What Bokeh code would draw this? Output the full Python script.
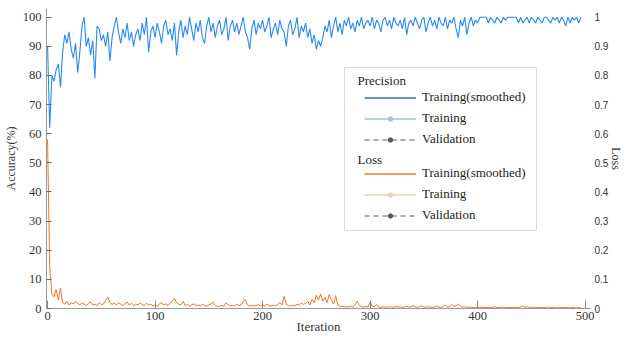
from bokeh.plotting import figure
from bokeh.models import (Range1d, LinearAxis, FixedTicker, NumeralTickFormatter,
                          Legend, LegendItem, BoxAnnotation, Label, Title)
from bokeh.embed import file_html
from bokeh.resources import INLINE

# ---------------- data ----------------
iterations = list(range(0, 497, 2))

accuracy = [
    90, 62, 80, 78, 82, 84, 76, 88, 94, 91,
    95, 89, 86, 91, 81, 88, 97, 100, 90, 93,
    87, 92, 79, 97, 96, 92, 94, 90, 95, 85,
    93, 97, 100, 95, 91, 96, 93, 98, 92, 95,
    90, 94, 96, 92, 98, 94, 100, 88, 95, 97,
    93, 98, 95, 91, 97, 99, 94, 96, 92, 98,
    87, 95, 99, 93, 97, 94, 100, 96, 92, 98,
    95, 99, 93, 91, 97, 100, 95, 98, 93, 97,
    99, 94, 96, 100, 92, 97, 99, 95, 98, 94,
    97, 100, 95, 93, 89, 96, 99, 94, 98, 96,
    99, 95, 97, 100, 93, 96, 98, 94, 99, 96,
    95, 90, 97, 99, 94, 96, 100, 93, 97, 95,
    98, 93, 96, 91, 94, 89, 92, 90, 93, 97,
    95, 99, 93, 97, 100, 95, 98, 94, 99, 97,
    100, 96, 98, 95, 99, 97, 100, 96, 98, 99,
    97, 100, 96, 99, 98, 95, 99, 100, 97, 99,
    96, 100, 98, 97, 99, 96, 100, 94, 98, 99,
    97, 100, 98, 96, 99, 100, 95, 98, 100, 97,
    99, 96, 100, 98, 97, 100, 96, 99, 98, 100,
    96, 93, 99, 97, 100, 94, 98, 100, 97, 99,
    98, 100, 100, 100, 100, 98, 100, 99, 98, 100,
    99, 98, 100, 99, 100, 100, 100, 100, 100, 98,
    100, 98, 99, 100, 98, 100, 99, 98, 100, 99,
    98, 100, 100, 99, 98, 100, 99, 100, 98, 100,
    99, 97, 100, 98, 100, 99, 100, 98, 100,
]

loss = [
    0.58, 0.14, 0.05, 0.04, 0.065, 0.03, 0.07, 0.02, 0.015, 0.025,
    0.012, 0.02, 0.015, 0.025, 0.018, 0.012, 0.02, 0.015, 0.01, 0.018,
    0.022, 0.012, 0.015, 0.01, 0.02, 0.013, 0.016, 0.028, 0.04, 0.02,
    0.014, 0.018, 0.012, 0.02, 0.015, 0.01, 0.016, 0.022, 0.012, 0.018,
    0.01, 0.015, 0.012, 0.02, 0.014, 0.01, 0.018, 0.012, 0.015, 0.009,
    0.012, 0.008, 0.015, 0.02, 0.012, 0.016, 0.01, 0.018, 0.025, 0.035,
    0.02, 0.015, 0.012, 0.025, 0.01, 0.014, 0.008, 0.012, 0.016, 0.01,
    0.012, 0.009, 0.014, 0.01, 0.008, 0.012, 0.016, 0.022, 0.01, 0.008,
    0.007, 0.01, 0.008, 0.02, 0.012, 0.009, 0.011, 0.008, 0.015, 0.01,
    0.012, 0.025, 0.03, 0.012, 0.009, 0.011, 0.008, 0.01, 0.014, 0.009,
    0.012, 0.008, 0.015, 0.01, 0.008, 0.012, 0.009, 0.014, 0.02, 0.012,
    0.042, 0.015, 0.01, 0.008, 0.012, 0.009, 0.015, 0.011, 0.02, 0.014,
    0.018, 0.025, 0.012, 0.032, 0.02, 0.045, 0.03, 0.05, 0.025, 0.038,
    0.02, 0.048, 0.03, 0.015, 0.044, 0.012, 0.008, 0.007, 0.006, 0.005,
    0.006, 0.008, 0.005, 0.012, 0.025, 0.01, 0.006, 0.005, 0.007, 0.005,
    0.022, 0.008, 0.006, 0.014, 0.005, 0.004, 0.006, 0.005, 0.004, 0.006,
    0.005, 0.004, 0.007, 0.005, 0.006, 0.004, 0.005, 0.008, 0.005, 0.006,
    0.01, 0.005, 0.004, 0.006, 0.009, 0.005, 0.004, 0.006, 0.005, 0.004,
    0.005, 0.008, 0.005, 0.004, 0.006, 0.012, 0.005, 0.007, 0.014, 0.006,
    0.01, 0.015, 0.008, 0.005, 0.006, 0.004, 0.005, 0.004, 0.003, 0.004,
    0.004, 0.003, 0.005, 0.003, 0.004, 0.003, 0.004, 0.003, 0.006, 0.003,
    0.004, 0.003, 0.005, 0.003, 0.004, 0.003, 0.004, 0.003, 0.004, 0.003,
    0.005, 0.008, 0.004, 0.006, 0.003, 0.005, 0.003, 0.004, 0.003, 0.004,
    0.003, 0.004, 0.003, 0.005, 0.003, 0.004, 0.003, 0.002, 0.004, 0.003,
    0.003, 0.004, 0.003, 0.002, 0.004, 0.003, 0.002, 0.003, 0.004,
]

acc_ticks = [0, 10, 20, 30, 40, 50, 60, 70, 80, 90, 100]
loss_ticks = [0, 0.1, 0.2, 0.3, 0.4, 0.5, 0.6, 0.7, 0.8, 0.9, 1.0]
iter_ticks = [0, 100, 200, 300, 400, 500]

legend_precision = ["Training(smoothed)", "Training", "Validation"]
legend_loss = ["Training(smoothed)", "Training", "Validation"]

SERIF = "Liberation Serif"
SANS = "Liberation Sans"
NAN = float("nan")

# ---------------- figure ----------------
p = figure(width=621, height=336, output_backend="svg", toolbar_location=None,
           x_range=Range1d(-1, 505), y_range=Range1d(0, 103),
           min_border_left=38, min_border_right=0, min_border_top=8,
           min_border_bottom=0)
p.extra_y_ranges = {"loss": Range1d(0, 1.03)}
p.outline_line_color = None
p.xgrid.visible = False
p.ygrid.visible = False

# left axis
ya = p.yaxis[0]
ya.ticker = FixedTicker(ticks=acc_ticks)
ya.axis_label = "Accuracy(%)"
ya.axis_label_text_font = SERIF
ya.axis_label_text_font_size = "12px"
ya.axis_label_text_font_style = "normal"
ya.axis_label_text_color = "#333333"
ya.axis_label_standoff = 2
ya.major_label_text_font = SERIF
ya.major_label_text_font_size = "12.5px"
ya.major_label_text_color = "#333333"
ya.major_label_standoff = 5
ya.axis_line_color = "#9a9a9a"
ya.major_tick_line_color = "#666666"
ya.major_tick_in = 5
ya.major_tick_out = 0
ya.minor_tick_line_color = None

# bottom axis
xa = p.xaxis[0]
xa.ticker = FixedTicker(ticks=iter_ticks)
xa.axis_label = "Iteration"
xa.axis_label_text_font = SERIF
xa.axis_label_text_font_size = "13px"
xa.axis_label_text_font_style = "normal"
xa.axis_label_text_color = "#333333"
xa.axis_label_standoff = -4
xa.major_label_text_font = SERIF
xa.major_label_text_font_size = "12.5px"
xa.major_label_text_color = "#333333"
xa.major_label_standoff = 3
xa.axis_line_color = "#9a9a9a"
xa.major_tick_line_color = "#888888"
xa.major_tick_in = 8
xa.major_tick_out = 0
xa.minor_tick_line_color = None

# right axis
ra = LinearAxis(y_range_name="loss", ticker=FixedTicker(ticks=loss_ticks),
                formatter=NumeralTickFormatter(format="0.[0]"))
ra.major_label_text_font = SANS
ra.major_label_text_font_size = "10px"
ra.major_label_text_color = "#333333"
ra.major_label_standoff = 4
ra.axis_line_color = None
ra.major_tick_line_color = None
ra.major_tick_in = 0
ra.major_tick_out = 0
ra.minor_tick_line_color = None
p.add_layout(ra, "right")
p.add_layout(Title(text="Loss", align="center", text_font=SERIF, text_font_size="12px",
                   text_font_style="normal", text_color="#333333",
                   standoff=-6, offset=0), "right")

# data lines
p.line(iterations, accuracy, line_color="#2a8af0", line_width=1.1)
p.line(iterations, loss, y_range_name="loss", line_color="#f07424", line_width=1.0)

# legend-only renderers (no visible data)
def leg_line(color, dash="solid", width=1.5):
    return p.line(x=[NAN], y=[NAN], line_color=color, line_width=width, line_dash=dash)

def leg_dot(color):
    return p.scatter(x=[NAN], y=[NAN], marker="circle", size=4,
                     fill_color=color, line_color=color)

prec_colors = ["#2e75b6", "#9dc3e6", "#595959"]
loss_colors = ["#ed7d31", "#f8cbad", "#595959"]

def build_items(labels, colors):
    return [
        LegendItem(label=labels[0], renderers=[leg_line(colors[0])]),
        LegendItem(label=labels[1], renderers=[leg_line(colors[1]), leg_dot(colors[1])]),
        LegendItem(label=labels[2], renderers=[leg_line(colors[2], "5 4", 1.2), leg_dot(colors[2])]),
    ]

box = BoxAnnotation(left=298, right=490, top=241, bottom=78,
                    left_units="screen", right_units="screen",
                    top_units="screen", bottom_units="screen",
                    fill_color="white", fill_alpha=1.0,
                    line_color="#8c8c8c", line_width=1)
p.add_layout(box)

p.add_layout(Label(x=311, y=228, x_units="screen", y_units="screen", text="Precision",
                   text_font=SERIF, text_font_size="13px", text_baseline="middle",
                   text_color="#222222"))
p.add_layout(Label(x=311, y=149, x_units="screen", y_units="screen", text="Loss",
                   text_font=SERIF, text_font_size="13px", text_baseline="middle",
                   text_color="#222222"))

def make_legend(items, loc):
    return Legend(items=items, location=loc, border_line_color=None,
                  background_fill_alpha=0, padding=0, margin=0, spacing=1,
                  glyph_width=52, glyph_height=11, label_height=20, label_standoff=6,
                  label_text_font=SERIF, label_text_font_size="13px",
                  label_text_color="#222222")

p.add_layout(make_legend(build_items(legend_precision, prec_colors), (318, 159)), "center")
p.add_layout(make_legend(build_items(legend_loss, loss_colors), (318, 83)), "center")

open("out.html", "w").write(file_html(p, INLINE))
